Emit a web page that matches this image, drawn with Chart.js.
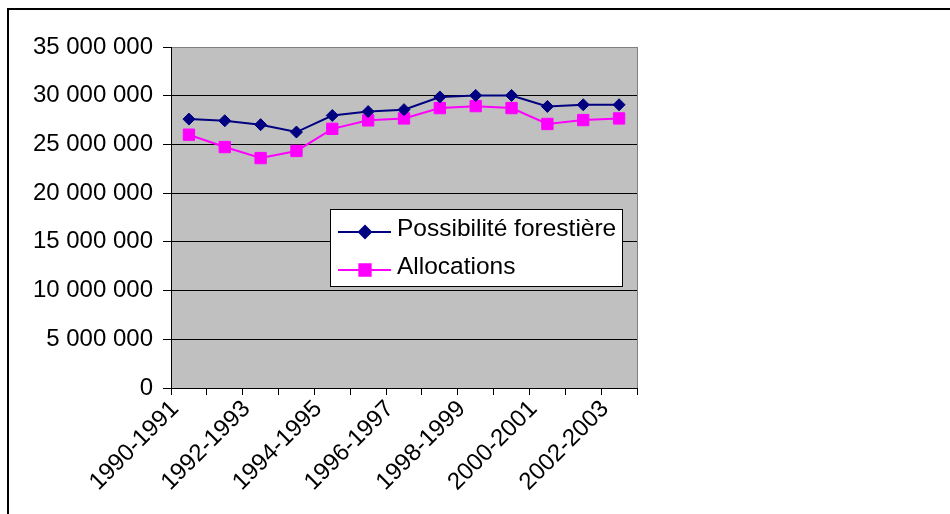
<!DOCTYPE html>
<html>
<head>
<meta charset="utf-8">
<script src="https://cdn.jsdelivr.net/npm/chart.js@4.4.0/dist/chart.umd.min.js"></script>
<style>
  html, body { margin: 0; padding: 0; background: #fff; }
  #wrap { position: relative; width: 950px; height: 514px; overflow: hidden; }
</style>
</head>
<body>
<div id="wrap"><canvas id="chart" width="950" height="514"></canvas></div>
<script>
// Data
const seasons = ['1990-1991', '1991-1992', '1992-1993', '1993-1994', '1994-1995', '1995-1996', '1996-1997',
  '1997-1998', '1998-1999', '1999-2000', '2000-2001', '2001-2002', '2002-2003'];
const possibilite = [27600000, 27430000, 27030000, 26270000, 27970000, 28370000, 28570000,
  29870000, 30030000, 30030000, 28900000, 29070000, 29070000];
const allocations = [26000000, 24730000, 23600000, 24330000, 26600000, 27470000, 27670000,
  28730000, 28930000, 28730000, 27100000, 27500000, 27670000];
const yTicks = [0, 5000000, 10000000, 15000000, 20000000, 25000000, 30000000, 35000000];

Chart.defaults.font.family = '"Liberation Sans", Arial, sans-serif';
Chart.defaults.color = '#000';

const fontSize = 24;

function spaced(v) {
  return v.toString().replace(/\B(?=(\d{3})+(?!\d))/g, ' ');
}

// white page, clipped outer frame, grey plot area
const backdrop = {
  id: 'backdrop',
  beforeDraw(chart) {
    const { ctx, chartArea: a } = chart;
    ctx.save();
    ctx.fillStyle = '#fff';
    ctx.fillRect(0, 0, chart.width, chart.height);
    ctx.strokeStyle = '#000';
    ctx.lineWidth = 2;
    ctx.beginPath();
    ctx.moveTo(8, chart.height + 10);
    ctx.lineTo(8, 9);
    ctx.lineTo(chart.width + 10, 9);
    ctx.stroke();
    ctx.fillStyle = '#c0c0c0';
    ctx.fillRect(a.left, a.top, a.right - a.left, a.bottom - a.top);
    ctx.strokeStyle = '#808080';
    ctx.lineWidth = 1;
    ctx.strokeRect(a.left + 0.5, a.top + 0.5, a.right - a.left, a.bottom - a.top);
    ctx.restore();
  }
};

// legend box inside the plot
const boxLegend = {
  id: 'boxLegend',
  afterDraw(chart) {
    const ctx = chart.ctx;
    const x = 330, y = 209, w = 292, h = 77;
    ctx.save();
    ctx.fillStyle = '#fff';
    ctx.fillRect(x, y, w, h);
    ctx.strokeStyle = '#000';
    ctx.lineWidth = 1;
    ctx.strokeRect(x + 0.5, y + 0.5, w, h);
    ctx.font = '24.5px "Liberation Sans", Arial, sans-serif';
    ctx.textBaseline = 'middle';
    chart.data.datasets.forEach((ds, i) => {
      const ly = 232 + i * 38;
      ctx.strokeStyle = ds.borderColor;
      ctx.fillStyle = ds.backgroundColor;
      ctx.lineWidth = 2;
      ctx.beginPath();
      ctx.moveTo(338, ly);
      ctx.lineTo(391, ly);
      ctx.stroke();
      Chart.helpers.drawPoint(ctx, { pointStyle: ds.pointStyle, radius: ds.pointRadius, borderWidth: 1, rotation: 0 }, 365, ly);
      ctx.fillStyle = '#000';
      ctx.fillText(ds.label, 397, ly - 3);
    });
    ctx.restore();
  }
};

new Chart(document.getElementById('chart'), {
  type: 'line',
  data: {
    labels: seasons,
    datasets: [
      {
        label: 'Possibilité forestière',
        data: possibilite,
        borderColor: '#000080',
        backgroundColor: '#000080',
        borderWidth: 2,
        pointStyle: 'rectRot',
        pointRadius: 6,
        pointBorderWidth: 1,
        tension: 0
      },
      {
        label: 'Allocations',
        data: allocations,
        borderColor: '#ff00ff',
        backgroundColor: '#ff00ff',
        borderWidth: 2,
        pointStyle: 'rect',
        pointRadius: 8,
        pointBorderWidth: 1,
        tension: 0
      }
    ]
  },
  options: {
    responsive: false,
    animation: false,
    devicePixelRatio: 1,
    layout: { padding: { left: 0, top: 47, right: 313, bottom: 0 } },
    plugins: {
      legend: { display: false },
      tooltip: { enabled: false }
    },
    scales: {
      x: {
        offset: true,
        afterFit(scale) { scale.height = 126; },
        grid: { offset: true, drawOnChartArea: false, color: '#000', tickLength: 7 },
        border: { color: '#000', width: 1 },
        ticks: {
          autoSkip: false,
          maxRotation: 45,
          minRotation: 45,
          padding: 0,
          labelOffset: -14,
          font: { size: fontSize },
          color: '#000',
          callback: (v, i) => (i % 2 ? '' : seasons[i])
        }
      },
      y: {
        min: 0,
        max: 35000000,
        afterFit(scale) { scale.width = 171; },
        afterBuildTicks(scale) { scale.ticks = yTicks.map(v => ({ value: v })); },
        grid: {
          color: ctx => (ctx.tick && ctx.tick.value === 35000000 ? 'rgba(0,0,0,0)' : '#000'),
          tickColor: '#000',
          tickLength: 8
        },
        border: { color: '#000', width: 1 },
        ticks: {
          padding: 10,
          font: { size: fontSize },
          color: '#000',
          callback: v => spaced(v)
        }
      }
    }
  },
  plugins: [backdrop, boxLegend]
});
</script>
</body>
</html>
